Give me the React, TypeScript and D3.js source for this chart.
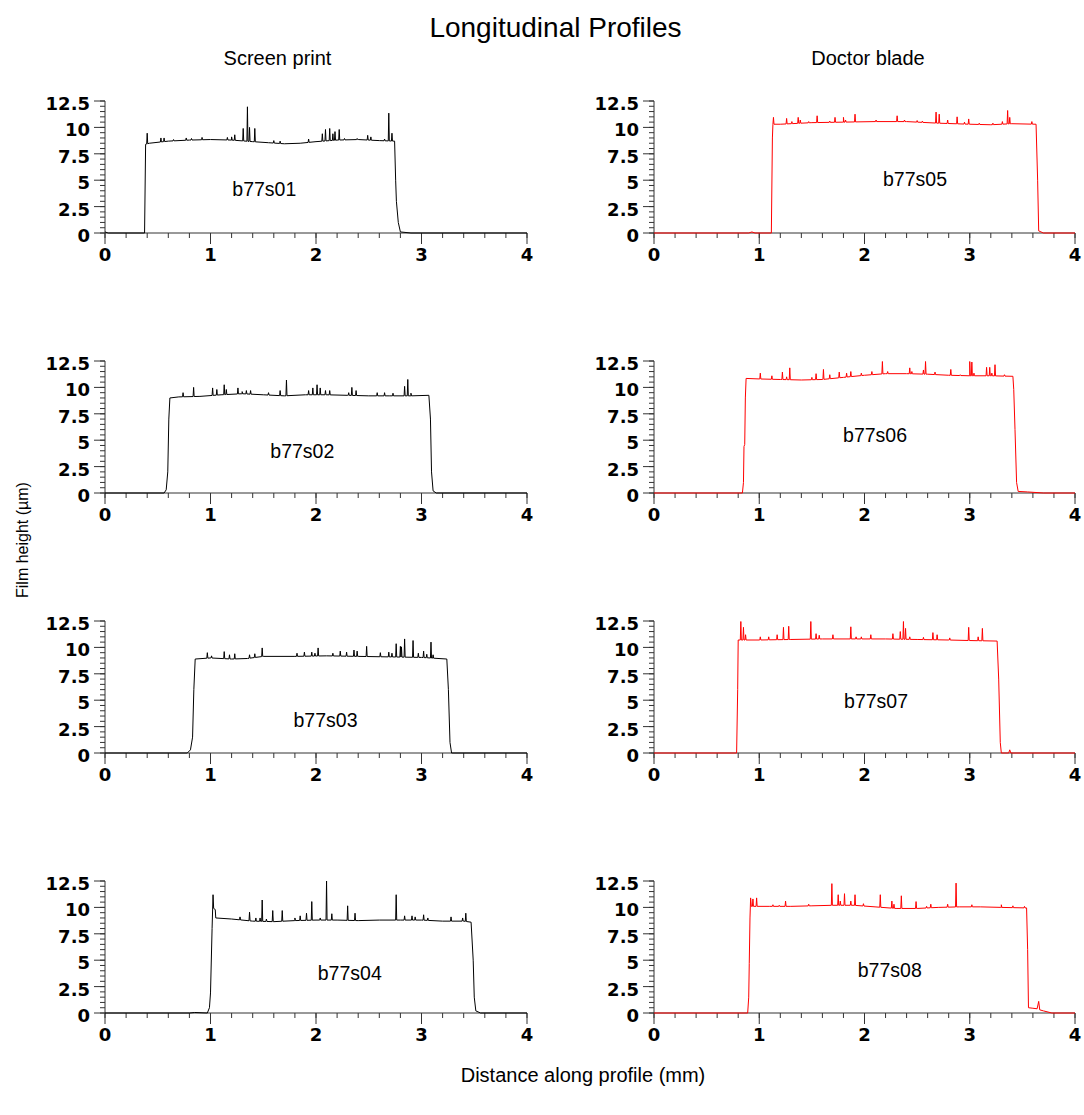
import * as d3 from "d3";

const WIDTH = 1084;
const HEIGHT = 1115;

// panel frame (page pixels)
const COLS = [
  { x0: 105, x1: 527 },
  { x0: 654, x1: 1075 },
];
const ROW_BOTTOMS = [233, 493, 753, 1013];
const PANEL_H = 132;

const X_TICKS = [0, 1, 2, 3, 4];
const Y_TICKS = [0, 2.5, 5, 7.5, 10, 12.5];
const Y_TICK_LABELS = ["0", "2.5", "5", "7.5", "10", "12.5"];
const X_MINOR = d3.range(0, 4.001, 0.2);
const Y_MINOR = d3.range(0, 12.501, 0.5);

const SAMPLES = ["b77s01", "b77s02", "b77s03", "b77s04", "b77s05", "b77s06", "b77s07", "b77s08"];
const COLUMN_TITLES = ["Screen print", "Doctor blade"];
const SERIES_COLORS = ["#000000", "#ff0000"];

// profile outline [distance mm, height µm]
const PROFILE_01 = [[0, 0.1], [0.03, 0], [0.375, 0], [0.385, 8.4], [0.42, 8.5], [0.6, 8.7], [0.8, 8.8], [1.0, 8.85], [1.2, 8.8], [1.4, 8.65], [1.55, 8.55], [1.7, 8.45], [1.85, 8.5], [2.0, 8.65], [2.2, 8.8], [2.4, 8.85], [2.6, 8.75], [2.745, 8.7], [2.755, 5], [2.762, 3], [2.78, 1.0], [2.8, 0.1], [2.9, 0], [4, 0]];
const PROFILE_02 = [[0, 0], [0.56, 0], [0.58, 0.3], [0.595, 2], [0.605, 7], [0.615, 9.0], [0.7, 9.1], [0.9, 9.15], [1.1, 9.3], [1.3, 9.4], [1.5, 9.3], [1.7, 9.2], [1.9, 9.3], [2.1, 9.3], [2.3, 9.25], [2.5, 9.2], [2.7, 9.2], [2.9, 9.2], [3.07, 9.25], [3.085, 7], [3.095, 2], [3.11, 0.2], [3.14, 0], [4, 0]];
const PROFILE_03 = [[0, 0], [0.78, 0], [0.81, 0.3], [0.83, 1.5], [0.842, 6], [0.855, 8.9], [1.0, 9.0], [1.2, 8.9], [1.35, 8.95], [1.5, 9.15], [1.8, 9.15], [2.1, 9.2], [2.4, 9.15], [2.7, 9.1], [3.0, 9.05], [3.24, 8.9], [3.255, 6], [3.27, 1], [3.285, 0], [4, 0]];
const PROFILE_04 = [[0, 0], [0.8, 0], [0.85, 0.05], [0.97, 0], [0.99, 0.5], [1.0, 1.9], [1.015, 8], [1.024, 11.2], [1.03, 9.9], [1.045, 9.8], [1.05, 9.0], [1.2, 8.9], [1.4, 8.7], [1.6, 8.65], [1.8, 8.75], [2.0, 8.8], [2.2, 8.8], [2.4, 8.75], [2.6, 8.8], [2.8, 8.8], [3.0, 8.8], [3.2, 8.7], [3.4, 8.7], [3.47, 8.6], [3.49, 5], [3.5, 1.5], [3.515, 0.2], [3.56, 0], [4, 0]];
const PROFILE_05 = [[0, 0], [0.9, 0], [0.93, 0.1], [0.96, 0], [1.115, 0], [1.125, 9], [1.13, 10.3], [1.2, 10.3], [1.5, 10.45], [1.8, 10.5], [2.1, 10.55], [2.4, 10.55], [2.7, 10.4], [3.0, 10.3], [3.2, 10.25], [3.4, 10.35], [3.63, 10.3], [3.645, 5], [3.655, 0.2], [3.7, 0], [4, 0]];
const PROFILE_06 = [[0, 0], [0.84, 0], [0.85, 1], [0.855, 4.4], [0.862, 4.6], [0.868, 9], [0.875, 10.85], [1.0, 10.8], [1.2, 10.75], [1.4, 10.7], [1.6, 10.75], [1.8, 10.95], [2.0, 11.15], [2.2, 11.3], [2.4, 11.3], [2.6, 11.25], [2.8, 11.15], [3.0, 11.1], [3.2, 11.1], [3.41, 11.05], [3.418, 9.8], [3.43, 6], [3.445, 1], [3.46, 0.15], [3.55, 0.1], [3.7, 0], [4, 0]];
const PROFILE_07 = [[0, 0], [0.785, 0], [0.795, 6], [0.8, 10.7], [1.0, 10.7], [1.3, 10.75], [1.6, 10.8], [1.9, 10.8], [2.2, 10.8], [2.5, 10.75], [2.8, 10.7], [3.0, 10.65], [3.26, 10.6], [3.275, 7], [3.29, 1], [3.3, 0], [3.37, 0], [3.38, 0.3], [3.39, 0], [4, 0]];
const PROFILE_08 = [[0, 0], [0.89, 0], [0.9, 1.5], [0.905, 4.7], [0.912, 9], [0.918, 10.9], [0.925, 10.1], [1.1, 10.1], [1.3, 10.1], [1.5, 10.15], [1.7, 10.2], [1.9, 10.2], [2.1, 10.05], [2.3, 9.9], [2.5, 9.9], [2.7, 10.0], [2.9, 10.05], [3.1, 10.05], [3.3, 10.0], [3.54, 9.95], [3.55, 6], [3.558, 0.5], [3.6, 0.45], [3.64, 0.4], [3.655, 1.1], [3.665, 0.3], [3.7, 0.2], [3.78, 0], [4, 0]];

// narrow spikes on top of the film [distance mm, peak µm]
const SPIKES_01 = [[0.40, 9.45], [0.53, 9.0], [0.56, 9.0], [0.65, 8.85], [0.77, 9.0], [0.82, 8.95], [0.92, 9.05], [1.16, 9.05], [1.20, 9.1], [1.23, 9.3], [1.31, 9.9], [1.35, 11.95], [1.37, 10.0], [1.42, 9.9], [1.6, 8.75], [1.66, 8.7], [1.93, 8.9], [2.06, 9.4], [2.09, 9.8], [2.13, 9.9], [2.16, 9.4], [2.18, 9.6], [2.22, 9.8], [2.27, 8.95], [2.39, 8.95], [2.49, 9.25], [2.52, 9.1], [2.65, 8.9], [2.69, 11.35], [2.72, 9.45]];
const SPIKES_02 = [[0.74, 9.5], [0.84, 10.0], [1.02, 9.95], [1.06, 9.8], [1.13, 10.25], [1.15, 9.8], [1.26, 9.95], [1.30, 9.6], [1.34, 9.7], [1.38, 9.7], [1.55, 9.5], [1.66, 9.7], [1.72, 10.7], [1.93, 9.7], [1.97, 9.95], [2.01, 10.25], [2.04, 9.95], [2.09, 9.7], [2.13, 9.7], [2.31, 9.5], [2.34, 10.0], [2.38, 9.7], [2.58, 9.5], [2.65, 9.5], [2.73, 9.45], [2.84, 10.1], [2.87, 10.75], [2.90, 9.45]];
const SPIKES_03 = [[0.97, 9.5], [1.01, 9.2], [1.13, 9.6], [1.18, 9.3], [1.23, 9.4], [1.37, 9.3], [1.42, 9.4], [1.49, 9.95], [1.82, 9.45], [1.89, 9.55], [1.96, 9.55], [1.99, 9.45], [2.02, 9.95], [2.16, 9.45], [2.23, 9.65], [2.29, 9.55], [2.36, 9.75], [2.39, 9.65], [2.48, 10.1], [2.61, 9.5], [2.69, 9.55], [2.72, 9.45], [2.76, 10.35], [2.80, 10.1], [2.81, 10.05], [2.84, 10.8], [2.92, 10.65], [2.97, 9.45], [3.02, 9.65], [3.05, 9.35], [3.09, 10.5], [3.11, 9.3]];
const SPIKES_04 = [[1.28, 9.1], [1.37, 9.55], [1.43, 9.0], [1.47, 9.0], [1.49, 10.7], [1.53, 8.9], [1.59, 9.7], [1.68, 9.7], [1.80, 9.0], [1.85, 9.2], [1.91, 9.45], [1.96, 10.55], [2.04, 9.0], [2.10, 12.5], [2.15, 9.4], [2.30, 10.15], [2.37, 9.45], [2.76, 11.2], [2.84, 9.2], [2.91, 9.2], [2.94, 9.1], [3.02, 9.3], [3.06, 9.0], [3.28, 9.1], [3.39, 9.0], [3.42, 9.45]];
const SPIKES_05 = [[1.135, 10.95], [1.26, 10.85], [1.31, 10.55], [1.37, 10.95], [1.39, 10.7], [1.47, 10.55], [1.55, 11.1], [1.67, 10.6], [1.72, 10.95], [1.80, 10.95], [1.82, 10.7], [1.91, 11.25], [2.11, 10.7], [2.31, 11.1], [2.38, 10.7], [2.50, 10.65], [2.55, 10.6], [2.68, 11.45], [2.71, 11.25], [2.79, 10.7], [2.88, 11.0], [2.95, 10.5], [2.99, 10.8], [3.09, 10.4], [3.22, 10.4], [3.31, 10.55], [3.36, 11.6], [3.38, 10.95], [3.59, 10.55]];
const SPIKES_06 = [[1.01, 11.35], [1.12, 11.1], [1.22, 11.45], [1.26, 11.0], [1.29, 11.85], [1.50, 10.95], [1.54, 11.3], [1.61, 11.7], [1.67, 11.2], [1.76, 11.45], [1.83, 11.35], [1.87, 11.5], [1.97, 11.35], [2.07, 11.5], [2.17, 12.45], [2.22, 11.5], [2.43, 11.85], [2.45, 11.5], [2.56, 11.65], [2.58, 12.45], [2.67, 11.45], [2.82, 11.7], [2.91, 11.2], [3.0, 12.45], [3.02, 12.4], [3.04, 11.35], [3.16, 11.9], [3.19, 11.9], [3.21, 11.35], [3.24, 12.15], [3.33, 11.2]];
const SPIKES_07 = [[0.825, 12.45], [0.85, 11.9], [0.87, 11.2], [1.01, 11.0], [1.09, 11.0], [1.17, 11.2], [1.23, 11.9], [1.28, 12.0], [1.49, 12.45], [1.54, 11.3], [1.57, 11.15], [1.70, 11.2], [1.87, 11.95], [1.92, 11.0], [1.97, 11.0], [2.06, 11.2], [2.27, 11.3], [2.34, 11.5], [2.37, 12.45], [2.39, 11.8], [2.43, 11.0], [2.56, 10.95], [2.65, 11.4], [2.69, 11.2], [2.81, 10.9], [2.99, 11.9], [3.08, 11.0], [3.12, 11.8]];
const SPIKES_08 = [[0.94, 10.8], [0.975, 10.9], [1.13, 10.25], [1.19, 10.2], [1.25, 10.6], [1.47, 10.3], [1.69, 12.25], [1.75, 11.2], [1.77, 10.6], [1.81, 11.3], [1.87, 10.6], [1.91, 11.2], [1.99, 10.35], [2.15, 11.2], [2.26, 10.6], [2.28, 10.3], [2.35, 11.1], [2.49, 10.55], [2.59, 10.1], [2.63, 10.3], [2.79, 10.3], [2.87, 12.3], [3.02, 10.25], [3.30, 10.25], [3.41, 10.15], [3.52, 10.1]];

const PROFILES = [PROFILE_01, PROFILE_02, PROFILE_03, PROFILE_04, PROFILE_05, PROFILE_06, PROFILE_07, PROFILE_08];
const SPIKES = [SPIKES_01, SPIKES_02, SPIKES_03, SPIKES_04, SPIKES_05, SPIKES_06, SPIKES_07, SPIKES_08];

// where the sample name sits, in data coords
const LABEL_POS = [[1.51, 3.5], [1.87, 3.3], [2.09, 2.5], [2.32, 3.1], [2.48, 4.45], [2.1, 4.8], [2.11, 4.3], [2.24, 3.4]];

const SPIKE_HALF = 0.005;
const AXIS_COLOR = "#333";
const TICK_FONT = "'DejaVu Sans', sans-serif";
const ARIAL = "'Liberation Sans', Arial, sans-serif";

function buildPoints(profile, spikes) {
  const base = d3
    .scaleLinear()
    .domain(profile.map((p) => p[0]))
    .range(profile.map((p) => p[1]));
  const pts = profile.map((p) => [p[0], p[1]]);
  spikes.forEach(([x, y]) => {
    pts.push([x - SPIKE_HALF, base(x - SPIKE_HALF)], [x, y], [x + SPIKE_HALF, base(x + SPIKE_HALF)]);
  });
  pts.sort((a, b) => a[0] - b[0]);
  return pts;
}

function Panel({ index }) {
  const col = index < 4 ? 0 : 1;
  const row = index % 4;
  const { x0, x1 } = COLS[col];
  const yb = ROW_BOTTOMS[row];

  const x = d3.scaleLinear().domain([0, 4]).range([x0, x1]);
  const y = d3.scaleLinear().domain([0, 12.5]).range([yb, yb - PANEL_H]);

  const line = d3
    .line()
    .x((d) => x(d[0]))
    .y((d) => y(d[1]));

  const pts = buildPoints(PROFILES[index], SPIKES[index]);
  const [lx, ly] = LABEL_POS[index];

  return (
    <g>
      {/* axes */}
      <line x1={x0} x2={x1} y1={yb} y2={yb} stroke={AXIS_COLOR} />
      <line x1={x0} x2={x0} y1={yb} y2={yb - PANEL_H} stroke={AXIS_COLOR} />
      {X_MINOR.map((t) => (
        <line key={"xm" + t} x1={x(t)} x2={x(t)} y1={yb} y2={yb + 5} stroke={AXIS_COLOR} />
      ))}
      {X_TICKS.map((t) => (
        <g key={"x" + t}>
          <line x1={x(t)} x2={x(t)} y1={yb} y2={yb + 11} stroke={AXIS_COLOR} />
          <text
            x={x(t)}
            y={yb + 28}
            textAnchor="middle"
            fontFamily={TICK_FONT}
            fontWeight="bold"
            fontSize={18}
          >
            {t}
          </text>
        </g>
      ))}
      {Y_MINOR.map((t) => (
        <line key={"ym" + t} x1={x0 - 5} x2={x0} y1={y(t)} y2={y(t)} stroke={AXIS_COLOR} />
      ))}
      {Y_TICKS.map((t, i) => (
        <g key={"y" + t}>
          <line x1={x0 - 11} x2={x0} y1={y(t)} y2={y(t)} stroke={AXIS_COLOR} />
          <text
            x={x0 - 15}
            y={y(t) + 9}
            textAnchor="end"
            fontFamily={TICK_FONT}
            fontWeight="bold"
            fontSize={18}
          >
            {Y_TICK_LABELS[i]}
          </text>
        </g>
      ))}

      <path d={line(pts)} fill="none" stroke={SERIES_COLORS[col]} strokeWidth={1} />

      <text x={x(lx)} y={y(ly)} textAnchor="middle" fontFamily={ARIAL} fontSize={19.5}>
        {SAMPLES[index]}
      </text>
    </g>
  );
}

export default function App() {
  return (
    <svg
      width={WIDTH}
      height={HEIGHT}
      style={{ position: "absolute", left: 0, top: 0, background: "#fff" }}
    >
      <rect width={WIDTH} height={HEIGHT} fill="#fff" />
      <text x={555.5} y={37} textAnchor="middle" fontFamily={ARIAL} fontSize={28}>
        Longitudinal Profiles
      </text>
      <text x={277.5} y={65} textAnchor="middle" fontFamily={ARIAL} fontSize={20}>
        {COLUMN_TITLES[0]}
      </text>
      <text x={868} y={65} textAnchor="middle" fontFamily={ARIAL} fontSize={20}>
        {COLUMN_TITLES[1]}
      </text>

      {SAMPLES.map((s, i) => (
        <Panel key={s} index={i} />
      ))}

      <text
        transform="translate(28,540) rotate(-90)"
        textAnchor="middle"
        fontFamily={ARIAL}
        fontSize={16}
      >
        Film height (µm)
      </text>
      <text x={583} y={1082} textAnchor="middle" fontFamily={ARIAL} fontSize={20}>
        Distance along profile (mm)
      </text>
    </svg>
  );
}
